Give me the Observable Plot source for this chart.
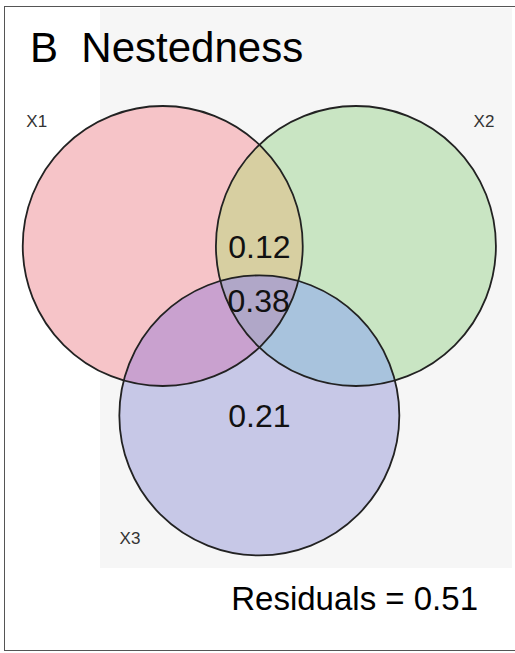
<!DOCTYPE html>
<html>
<head>
<meta charset="utf-8">
<script src="https://cdn.jsdelivr.net/npm/d3@7"></script>
<script src="https://cdn.jsdelivr.net/npm/@observablehq/plot@0.6"></script>
<style>
  html, body { margin: 0; padding: 0; background: #ffffff; }
  #wrap { position: relative; width: 515px; height: 653px; overflow: hidden; font-family: "Liberation Sans", Arial, sans-serif; }
  #frame { position: absolute; left: 4px; top: 6px; width: 515px; height: 643px; border-left: 1.5px solid #555; border-top: 1.5px solid #555; border-bottom: 1.5px solid #555; }
  #panel { position: absolute; left: 100px; top: 8px; width: 412px; height: 560px; background: #f6f6f6; }
  #chart { position: absolute; left: 0; top: 0; }
  #title { position: absolute; left: 30px; top: 27px; font-size: 42px; line-height: 42px; color: #000; white-space: pre; }
  #resid { position: absolute; right: 37px; top: 582px; font-size: 33px; line-height: 33px; color: #000; white-space: pre; }
</style>
</head>
<body>
<div id="wrap">
  <div id="panel"></div>
  <div id="frame"></div>
  <div id="chart"></div>
  <div id="title"></div>
  <div id="resid"></div>
</div>
<script>
// ---- data ----
const titleText = "B  Nestedness";
const residualText = "Residuals = 0.51";

const sets = ["X1", "X2", "X3"];
const setX = [-0.69, 0.69, 0.0];
const setY = [0.40, 0.40, -0.81];
const setR = [1, 1, 1];
const setFill = ["#f6c4c8", "#c9e5c3", "#c7c8e7"];
const setLabelX = [-1.59, 1.605, -0.924];
const setLabelY = [1.29, 1.29, -1.693];

// overlaps: circle drawn, clipped by the listed circles
const overlapName = ["X1&X2", "X1&X3", "X2&X3", "X1&X2&X3"];
const overlapDraw = [1, 2, 2, 2];
const overlapClip = [[0], [0], [1], [0, 1]];
const overlapFill = ["#d7cfa1", "#c9a1cf", "#a8c3dd", "#b0a7c8"];

const fractionLabels = ["0.12", "0.38", "0.21"];
const fractionX = [0.0, -0.005, 0.0];
const fractionY = [0.385, 0.0, -0.82];

// ---- tables ----
const circles = sets.map((s, i) => ({name: s, x: setX[i], y: setY[i], r: setR[i], fill: setFill[i], lx: setLabelX[i], ly: setLabelY[i]}));
const overlaps = overlapName.map((n, i) => ({name: n, x: setX[overlapDraw[i]], y: setY[overlapDraw[i]], r: setR[overlapDraw[i]], fill: overlapFill[i], clip: overlapClip[i]}));
const fractions = fractionLabels.map((t, i) => ({text: t, x: fractionX[i], y: fractionY[i]}));

const svg = Plot.plot({
  width: 515,
  height: 653,
  margin: 0,
  style: {background: "transparent", overflow: "visible"},
  x: {domain: [-1.849, 1.830], axis: null},
  y: {domain: [-2.511, 2.154], axis: null},
  r: {type: "linear", domain: [0, 1], range: [0, 140]},
  marks: [
    Plot.dot(circles, {x: "x", y: "y", r: "r", fill: "fill", stroke: "none"}),
    Plot.dot(overlaps, {x: "x", y: "y", r: "r", fill: "fill", stroke: "none"}),
    Plot.dot(circles, {x: "x", y: "y", r: "r", fill: "none", stroke: "#222", strokeWidth: 1.8}),
    Plot.text(circles, {x: "lx", y: "ly", text: "name", fontSize: 17, fill: "#333", fontFamily: "Liberation Sans, Arial, sans-serif"}),
    Plot.text(fractions, {x: "x", y: "y", text: "text", fontSize: 32, fill: "#111", fontFamily: "Liberation Sans, Arial, sans-serif"})
  ]
});

// clip the overlap circles to their intersections
const s = d3.select(svg);
const dotGroups = s.selectAll('g[aria-label="dot"]').nodes();
const defs = s.insert("defs", ":first-child");
d3.select(dotGroups[0]).selectAll("circle").nodes().forEach((c, i) => {
  const cp = defs.append("clipPath").attr("id", "vclip-" + i).attr("clipPathUnits", "userSpaceOnUse").node();
  const cl = c.cloneNode();
  cl.removeAttribute("fill");
  const gt = dotGroups[0].getAttribute("transform");
  if (gt) cl.setAttribute("transform", gt + " " + (c.getAttribute("transform") || ""));
  cp.appendChild(cl);
});
d3.select(dotGroups[1]).selectAll("circle").nodes().forEach((el, i) => {
  let node = el;
  for (const k of overlaps[i].clip) {
    const g = document.createElementNS("http://www.w3.org/2000/svg", "g");
    g.setAttribute("clip-path", "url(#vclip-" + k + ")");
    node.parentNode.insertBefore(g, node);
    g.appendChild(node);
    node = g;
  }
});
const og = dotGroups[1].getAttribute("transform");
if (og) {
  dotGroups[1].removeAttribute("transform");
  d3.select(dotGroups[1]).selectAll("circle").each(function() {
    this.setAttribute("transform", og + " " + (this.getAttribute("transform") || ""));
  });
}

document.getElementById("chart").appendChild(svg);
document.getElementById("title").textContent = titleText;
document.getElementById("resid").textContent = residualText;
</script>
</body>
</html>
